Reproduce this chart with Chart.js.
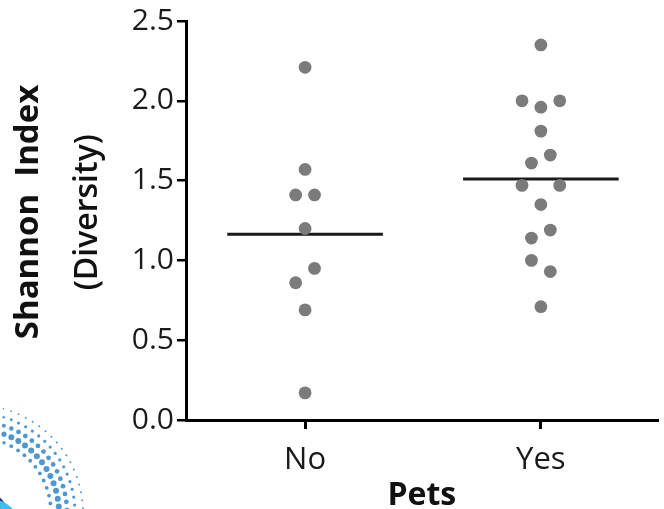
<!DOCTYPE html>
<html>
<head>
<meta charset="utf-8">
<script src="https://cdn.jsdelivr.net/npm/chart.js@4.4.0/dist/chart.umd.min.js"></script>
<style>
html, body { margin: 0; padding: 0; background: #fff; }
</style>
</head>
<body>
<canvas id="pets-chart" width="664" height="509"></canvas>
<script>
var groups = ['No', 'Yes'];
var noValues  = [2.21, 1.57, 1.41, 1.41, 1.20, 0.95, 0.86, 0.69, 0.17];
var noLanes   = [0, 0, -1, 1, 0, 1, -1, 0, 0];
var yesValues = [2.35, 2.00, 1.96, 2.00, 1.81, 1.66, 1.61, 1.47, 1.47, 1.35, 1.19, 1.14, 1.00, 0.93, 0.71];
var yesLanes  = [0, -2, 0, 2, 0, 1, -1, -2, 2, 0, 1, -1, -1, 1, 0];
var yTicks = [0, 0.5, 1.0, 1.5, 2.0, 2.5];

var LANE = 0.04;   // sideways step between swarm lanes, in group units
var HALF = 0.33;   // half width of the mean bar

function mean(a){
	return a.reduce(function(s, v){ return s + v; }, 0) / a.length;
}
function swarm(values, lanes, g){
	return values.map(function(v, i){ return {x: g + lanes[i] * LANE, y: v}; });
}
function meanBar(values, g){
	var m = mean(values);
	return [{x: g - HALF, y: m}, {x: g + HALF, y: m}];
}

// dotted arc in the lower left corner
var cornerMark = {
	id: 'cornerMark',
	beforeDraw: function(chart){
		var ctx = chart.ctx;
		ctx.save();
		ctx.fillStyle = '#1f2a6b';
		ctx.beginPath(); ctx.arc(-25, 525, 37, 0, Math.PI * 2); ctx.fill();
		ctx.fillStyle = '#3dbdf0';
		ctx.beginPath(); ctx.arc(-10, 530, 31, 0, Math.PI * 2); ctx.fill();
		var rows = [[76, 1.9], [84, 3.0], [92, 2.4], [100, 1.6], [108, 1.0]];
		ctx.fillStyle = '#4f97d3';
		rows.forEach(function(row){
			var r = row[0], step = 8 / r;
			for (var a = -1.6; a < 0.05; a += step){
				var fade = Math.min(1, (a + 1.6) / 0.5);
				var x = -25 + r * Math.cos(a), y = 513 + r * Math.sin(a);
				ctx.beginPath(); ctx.arc(x, y, row[1] * (0.45 + 0.55 * fade), 0, Math.PI * 2); ctx.fill();
			}
		});
		ctx.restore();
	}
};

new Chart(document.getElementById('pets-chart'), {
	type: 'scatter',
	data: {
		datasets: [
			{ label: 'No', data: swarm(noValues, noLanes, 0), backgroundColor: '#7b7b7b', borderWidth: 0, pointRadius: 6.4 },
			{ label: 'Yes', data: swarm(yesValues, yesLanes, 1), backgroundColor: '#7b7b7b', borderWidth: 0, pointRadius: 6.4 },
			{ label: 'No mean', data: meanBar(noValues, 0), showLine: true, borderColor: '#1a1a1a', borderWidth: 3, pointRadius: 0 },
			{ label: 'Yes mean', data: meanBar(yesValues, 1), showLine: true, borderColor: '#1a1a1a', borderWidth: 3, pointRadius: 0 }
		]
	},
	options: {
		responsive: false,
		animation: false,
		layout: { padding: { top: 20, right: 0, bottom: 0, left: 0 } },
		plugins: { legend: { display: false }, tooltip: { enabled: false } },
		scales: {
			x: {
				type: 'linear',
				min: -0.505, max: 1.495,
				afterBuildTicks: function(s){ s.ticks = groups.map(function(g, i){ return {value: i}; }); },
				afterFit: function(s){ s.height = 89; },
				ticks: {
					callback: function(v){ return groups[v]; },
					font: { family: 'Open Sans', size: 31 },
					color: '#1a1a1a', padding: 13
				},
				grid: { drawOnChartArea: false, drawTicks: true, tickLength: 9, color: '#000', lineWidth: 3 },
				border: { color: '#000', width: 3 },
				title: { display: true, text: 'Pets', color: '#111', padding: 0,
					font: { family: 'Open Sans', size: 32, weight: 'bold', lineHeight: 0.8 } }
			},
			y: {
				min: 0, max: 2.5,
				afterBuildTicks: function(s){ s.ticks = yTicks.map(function(v){ return {value: v}; }); },
				afterFit: function(s){ s.width = 130; },
				ticks: {
					callback: function(v){ return v.toFixed(1); },
					font: { family: 'Open Sans', size: 30 },
					color: '#1a1a1a', padding: 3
				},
				grid: { drawOnChartArea: false, drawTicks: true, tickLength: 9, color: '#000', lineWidth: 2.5 },
				border: { color: '#000', width: 3 },
				title: { display: true, text: '  (Diversity)', color: '#111', padding: { top: 16 },
					font: { family: 'Open Sans', size: 32, weight: '600', lineHeight: 1 } }
			},
			y2: {
				position: 'left',
				weight: 1,
				display: true,
				afterFit: function(s){ s.width = 56; },
				ticks: { display: false },
				grid: { display: false },
				border: { display: false },
				title: { display: true, text: '  Shannon  Index', color: '#111', padding: { top: 12.5 },
					font: { family: 'Open Sans', size: 33, weight: 'bold', lineHeight: 1 } }
			}
		}
	},
	plugins: [cornerMark]
});
</script>
</body>
</html>
